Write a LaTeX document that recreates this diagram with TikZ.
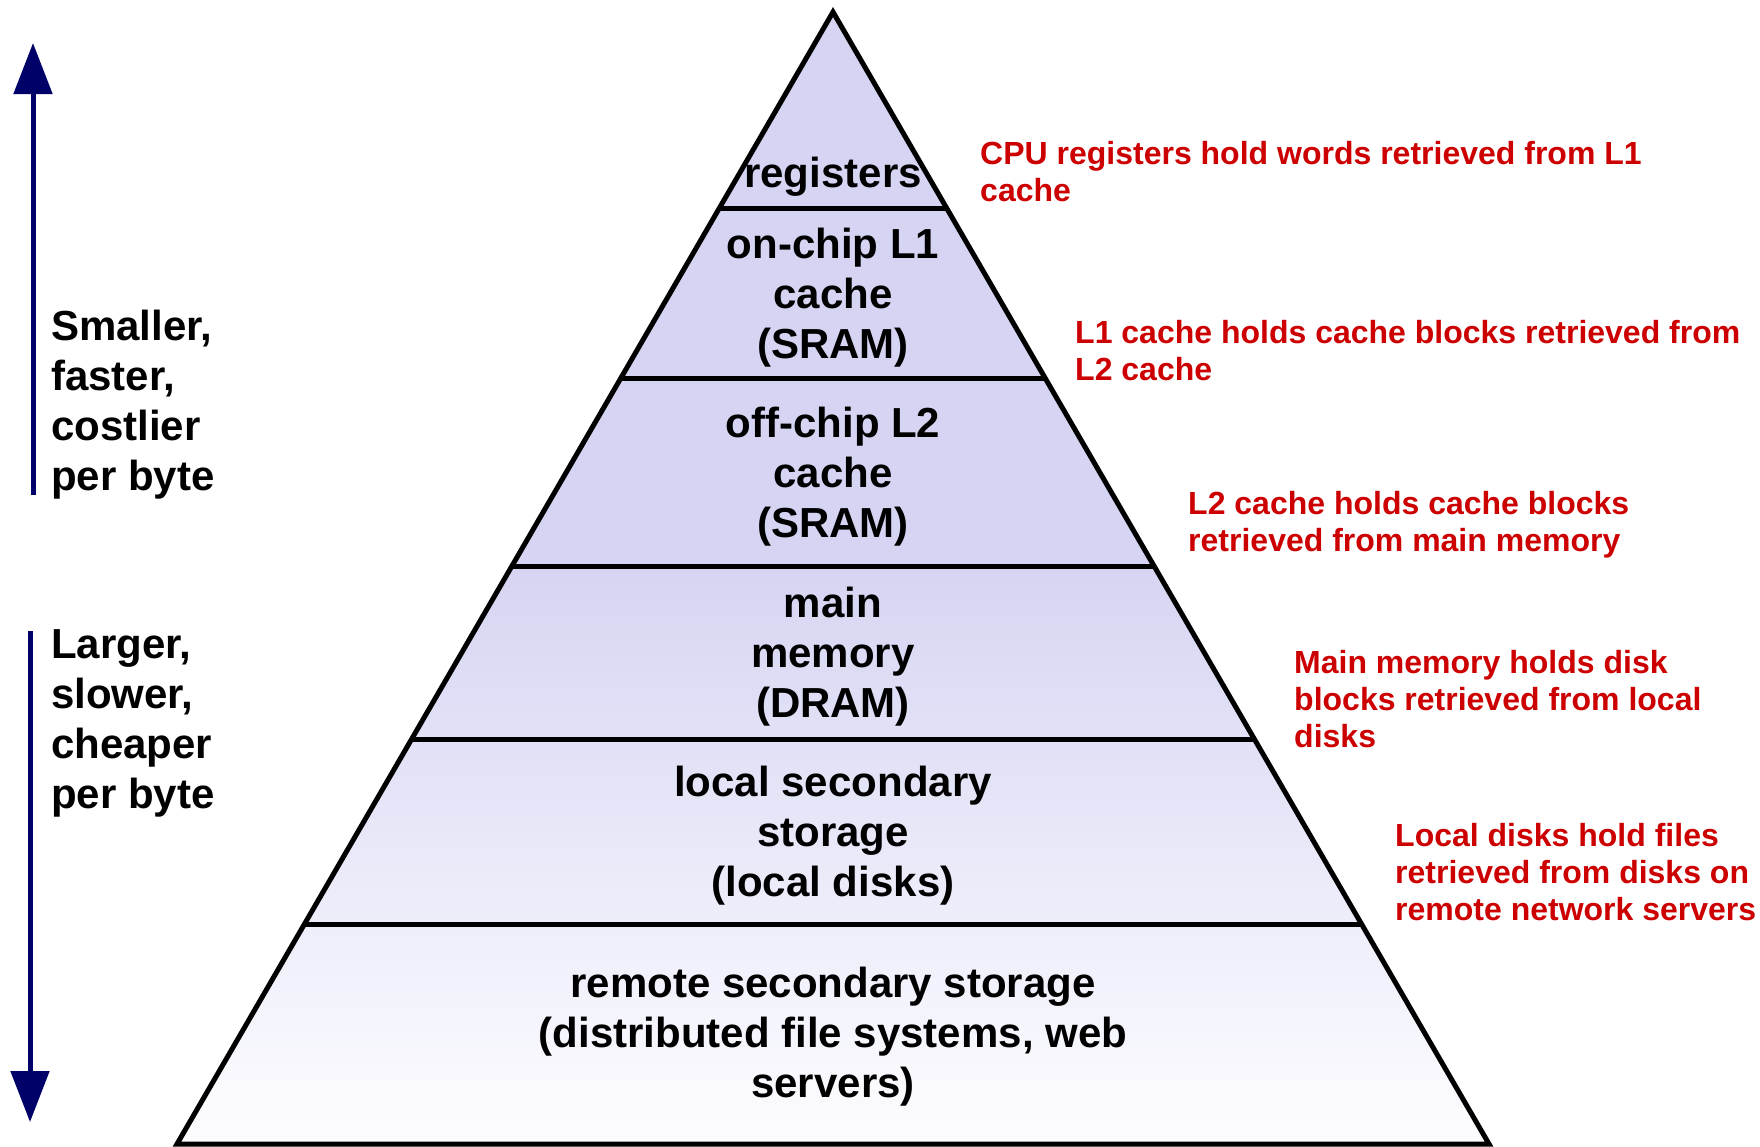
\documentclass[tikz,border=0pt]{standalone}
\usepackage{fontspec}
\setmainfont{Liberation Sans}
\usetikzlibrary{arrows.meta,calc}
\definecolor{layerfill}{RGB}{213,213,243}
\definecolor{layerlight}{RGB}{253,253,255}
\definecolor{notered}{RGB}{204,0,0}
\definecolor{axisblue}{RGB}{0,0,105}
\begin{document}
\begin{tikzpicture}[x=1pt,y=-1pt,
  lvl/.style={align=center,inner sep=0pt,font=\fontsize{42}{50}\selectfont\bfseries},
  side/.style={align=left,anchor=west,inner sep=0pt,font=\fontsize{42}{50}\selectfont\bfseries},
  note/.style={align=left,anchor=west,inner sep=0pt,text=notered,font=\fontsize{32}{37}\selectfont\bfseries},
  edge/.style={line width=5pt,line join=miter},
  trend/.style={draw=axisblue,line width=5pt,-{Triangle[width=38pt,length=51pt]},fill=axisblue}]
\useasboundingbox (0,0) rectangle (1760,1146);

% pyramid corners
\coordinate (apex) at (833,12);
\coordinate (baseL) at (177,1144);
\coordinate (baseR) at (1489,1144);

% level boundaries, as fractions of the height from the apex
\foreach \name/\yy in {sepA/208,sepB/378,sepC/566,sepD/740,sepE/924}{
  \coordinate (\name-w) at ($(apex)!{(\yy-12)/1132}!(baseL)$);
  \coordinate (\name-e) at ($(apex)!{(\yy-12)/1132}!(baseR)$);
}

% fills: solid on the upper levels, fading towards the base
\fill[layerfill] (apex) -- (sepC-e) -- (sepC-w) -- cycle;
\shade[top color=layerfill,bottom color=layerlight] (sepC-w) -- (sepC-e) -- (baseR) -- (baseL) -- cycle;

% level separators and outline
\foreach \name in {sepA,sepB,sepC,sepD,sepE}{
  \draw[edge] (\name-w) -- (\name-e);
}
\draw[edge] (apex) -- (baseR) -- (baseL) -- cycle;

% level labels
\node[lvl] (reg) at (833,177) {registers};
\node[lvl] (l1) at (833,298) {on-chip L1\\cache\\(SRAM)};
\node[lvl] (l2) at (833,477) {off-chip L2\\cache\\(SRAM)};
\node[lvl] (mem) at (833,657) {main\\memory\\(DRAM)};
\node[lvl] (loc) at (833,836) {local secondary\\storage\\(local disks)};
\node[lvl] (rem) at (833,1037) {remote secondary storage\\(distributed file systems, web\\servers)};

% notes beside the levels
\node[note] (n1) at (980,172) {CPU registers hold words retrieved from L1\\cache};
\node[note] (n2) at (1075,351) {L1 cache holds cache blocks retrieved from\\L2 cache};
\node[note] (n3) at (1188,525) {L2 cache holds cache blocks\\retrieved from main memory};
\node[note] (n4) at (1294,699) {Main memory holds disk\\blocks retrieved from local\\disks};
\node[note] (n5) at (1395,872) {Local disks hold files\\retrieved from disks on\\remote network servers};

% trend arrows and captions
\coordinate (upfoot) at (33,495);
\coordinate (uptip) at (33,43);
\coordinate (downtop) at (30,631);
\coordinate (downtip) at (30,1122);
\draw[trend] (upfoot) -- (uptip);
\draw[trend] (downtop) -- (downtip);
\node[side] (small) at (51,405) {Smaller,\\faster,\\costlier\\per byte};
\node[side] (large) at (51,723) {Larger,\\slower,\\cheaper\\per byte};
\end{tikzpicture}
\end{document}
